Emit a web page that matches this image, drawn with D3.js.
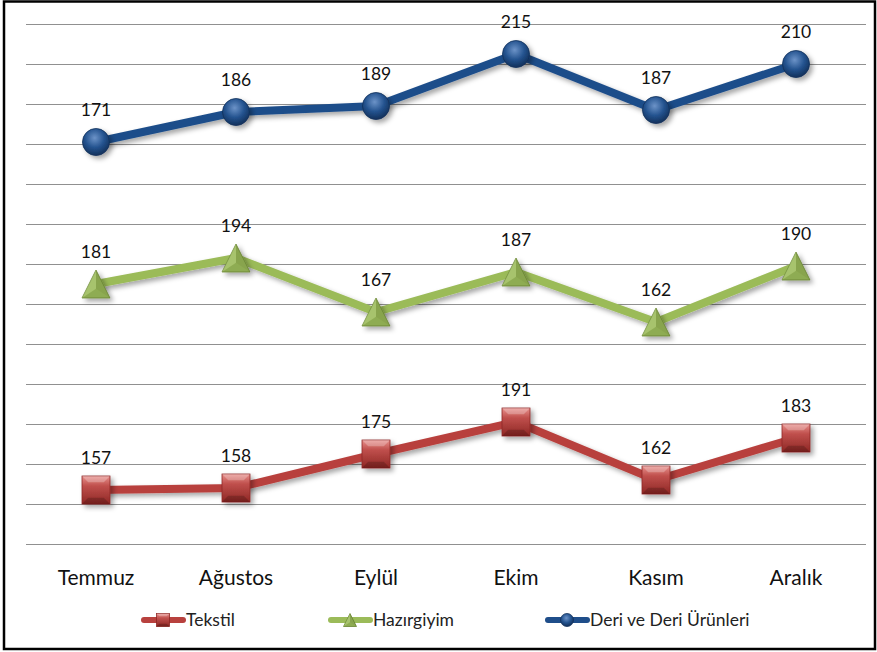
<!DOCTYPE html>
<html><head><meta charset="utf-8">
<script src="https://cdn.jsdelivr.net/npm/d3@7"></script>
<style>
html,body{margin:0;padding:0;background:#fff;}
svg{display:block;font-family:Lato,"Open Sans",sans-serif;}
</style></head>
<body>
<script>
const months = ["Temmuz","Ağustos","Eylül","Ekim","Kasım","Aralık"];
const tekstil = [157,158,175,191,162,183];
const hazirgiyim = [181,194,167,187,162,190];
const deri = [171,186,189,215,187,210];
const seriesNames = ["Tekstil","Hazırgiyim","Deri ve Deri Ürünleri"];
// vertical display offsets used by the original chart to stack the series in bands
const bandOffsets = [0,79,160];
const yTicks = d3.range(130, 391, 20);

const W = 877, H = 652;
const svg = d3.select("body").append("svg").attr("width", W).attr("height", H);
const defs = svg.append("defs");

const colors = {
  red:{line:"#B8413E", dark:"#8E2724", mid:"#C0504D", light:"#E8908C"},
  green:{line:"#9BBB59", dark:"#6E8C36", mid:"#9BBB59", light:"#C6DC95"},
  blue:{line:"#1F4E8A", dark:"#12305A", mid:"#24538F", light:"#6C93C8"}
};

const sh = defs.append("filter").attr("id","shadow").attr("x","-50%").attr("y","-50%").attr("width","200%").attr("height","200%");
sh.append("feDropShadow").attr("dx",3).attr("dy",3).attr("stdDeviation",2.5).attr("flood-color","#000").attr("flood-opacity",0.35);

Object.entries(colors).forEach(([k,c])=>{
  const rg = defs.append("radialGradient").attr("id","rg-"+k).attr("cx","45%").attr("cy","35%").attr("r","65%");
  rg.append("stop").attr("offset","0%").attr("stop-color",c.light);
  rg.append("stop").attr("offset","55%").attr("stop-color",c.mid);
  rg.append("stop").attr("offset","100%").attr("stop-color",c.dark);
  const lg = defs.append("linearGradient").attr("id","lg-"+k).attr("x1",0).attr("y1",0).attr("x2",0).attr("y2",1);
  lg.append("stop").attr("offset","0%").attr("stop-color",c.light);
  lg.append("stop").attr("offset","35%").attr("stop-color",c.mid);
  lg.append("stop").attr("offset","100%").attr("stop-color",c.dark);
});

// frame
svg.append("rect").attr("x",4).attr("y",1.5).attr("width",871).attr("height",647.5)
  .attr("fill","none").attr("stroke","#000").attr("stroke-width",2.5);

const x = d3.scaleBand().domain(months).range([26, 866]);
const cx = m => x(m) + x.bandwidth()/2;
const y = d3.scaleLinear().domain([130, 390]).range([544, 24]);

// gridlines
const grid = svg.append("g").attr("transform","translate(26,0)")
  .call(d3.axisLeft(y).tickValues(yTicks).tickSize(-840).tickFormat(""));
grid.select(".domain").remove();
grid.selectAll(".tick line").attr("stroke","#909090").attr("stroke-width",1).attr("shape-rendering","crispEdges");

// x labels
svg.append("g").selectAll("text").data(months).join("text")
  .attr("x", d=>cx(d)).attr("y", 584.5).attr("text-anchor","middle")
  .attr("font-size",21).attr("fill","#111").text(d=>d);

const series = [
  {name:seriesNames[0], vals:tekstil, off:bandOffsets[0], col:"red", shape:"square"},
  {name:seriesNames[1], vals:hazirgiyim, off:bandOffsets[1], col:"green", shape:"triangle"},
  {name:seriesNames[2], vals:deri, off:bandOffsets[2], col:"blue", shape:"circle"}
];

function drawMarker(g, shape, col, s){
  if(shape==="circle"){
    g.append("circle").attr("r", s/2).attr("fill","url(#rg-"+col+")").attr("stroke",colors[col].dark).attr("stroke-width",0.8);
  } else if(shape==="square"){
    g.append("rect").attr("x",-s/2).attr("y",-s/2).attr("width",s).attr("height",s)
      .attr("fill","url(#lg-"+col+")").attr("stroke",colors[col].dark).attr("stroke-width",0.8);
    const i = s*0.22;
    g.append("path").attr("d",`M${-s/2},${-s/2}L${-s/2+i},${-s/2+i}L${s/2-i},${-s/2+i}L${s/2},${-s/2}Z`).attr("fill","#fff").attr("opacity",0.25);
    g.append("path").attr("d",`M${-s/2},${s/2}L${-s/2+i},${s/2-i}L${s/2-i},${s/2-i}L${s/2},${s/2}Z`).attr("fill","#000").attr("opacity",0.18);
  } else {
    const h = s;
    g.append("path").attr("d",`M0,${-h/2}L${s/2},${h/2}L${-s/2},${h/2}Z`)
      .attr("fill",colors[col].mid).attr("stroke",colors[col].dark).attr("stroke-width",0.8);
    g.append("path").attr("d",`M0,${-h/2}L0,${h/6}L${s/2},${h/2}Z`).attr("fill","#000").attr("opacity",0.12);
    g.append("path").attr("d",`M0,${h/6}L${s/2},${h/2}L${-s/2},${h/2}Z`).attr("fill","#000").attr("opacity",0.08);
    g.append("path").attr("d",`M0,${-h/2}L0,${h/6}L${-s/2},${h/2}Z`).attr("fill","#fff").attr("opacity",0.12);
  }
}

const line = d3.line().x(d=>cx(d.m)).y(d=>y(d.v));
series.forEach(s=>{
  const pts = s.vals.map((v,i)=>({m:months[i], v:v+s.off, raw:v}));
  const g = svg.append("g");
  g.append("path").datum(pts).attr("d",line).attr("fill","none")
    .attr("stroke",colors[s.col].line).attr("stroke-width",8).attr("stroke-linejoin","round")
    .attr("filter","url(#shadow)");
  pts.forEach(p=>{
    const mg = g.append("g").attr("transform",`translate(${cx(p.m)},${y(p.v)})`).attr("filter","url(#shadow)");
    drawMarker(mg, s.shape, s.col, s.shape==="circle"?27:28);
  });
  g.selectAll("text.lbl").data(pts).join("text").attr("class","lbl")
    .attr("x",p=>cx(p.m)).attr("y",p=>y(p.v)-26.5).attr("text-anchor","middle")
    .attr("font-size",17.5).attr("fill","#111").text(p=>p.raw);
});

// legend
const legX = [141, 328, 545];
const lg = svg.append("g");
series.forEach((s,i)=>{
  const g = lg.append("g").attr("transform",`translate(${legX[i]},620)`);
  g.append("line").attr("x1",3).attr("x2",42).attr("y1",0).attr("y2",0)
    .attr("stroke",colors[s.col].line).attr("stroke-width",6).attr("stroke-linecap","round");
  const mg = g.append("g").attr("transform","translate(22,0)");
  drawMarker(mg, s.shape, s.col, 13);
  g.append("text").attr("x",45).attr("y",6).attr("font-size",17.5).attr("fill","#222").text(s.name);
});
</script>
</body></html>
